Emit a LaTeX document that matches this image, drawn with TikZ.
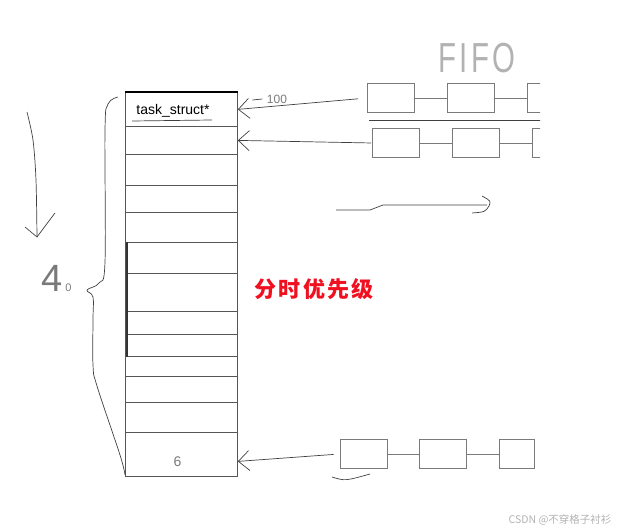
\documentclass[tikz,border=0pt]{standalone}
\usepackage{fontspec}
\setmainfont{Liberation Sans}
\newfontfamily\handfont{Liberation Sans}[FakeStretch=0.7,LetterSpace=8]
\newfontfamily\cjkfont{Noto Sans CJK SC}
\newfontfamily\cjkwide{Noto Sans CJK SC}[LetterSpace=10]
\usepackage{xcolor}
\usetikzlibrary{arrows.meta,positioning}
\definecolor{InkGray}{HTML}{7A7A7A}
\definecolor{SlotLine}{HTML}{555555}
\definecolor{MarkRed}{HTML}{F01020}

\begin{document}
\begin{tikzpicture}[
  x=1pt, y=-1pt,
  node distance=32pt,
  slot/.style={draw=SlotLine,line width=0.8pt,minimum width=112pt,inner sep=0pt,anchor=north west},
  fifo/.style={draw=InkGray,line width=0.8pt,minimum width=47pt,minimum height=29pt,inner sep=0pt},
  link/.style={InkGray,line width=0.8pt},
  ink/.style={black!75,line width=0.7pt},
  arrow/.style={-{Straight Barb[length=11pt,width=20pt]},black!75,line width=0.7pt}
]
  \useasboundingbox (0,0) rectangle (625,532);

  % priority array
  \foreach \t/\b [count=\i from 0] in {92/126,126/154,154/185,185/212,212/242,242/273,273/311,311/334,334/356,356/376,376/402,402/432,432/476}
    \node[slot,minimum height={(\b-\t)*1pt}] (slot\i) at (125,\t) {};
  \draw[line width=2.2pt] (slot0.north west) -- (slot0.north east);
  \draw[line width=1.2pt,black!80] ([xshift=2pt]slot5.north west) -- ([xshift=2pt]slot8.south west);

  \node[font=\fontsize{14}{16}\selectfont,inner sep=0pt,anchor=base] (ts) at (173,115) {task\_struct*};
  \draw[ink] ([xshift=-4pt,yshift=-6pt]ts.base west) -- ([xshift=2pt,yshift=-5pt]ts.base east);
  \node[font=\fontsize{14}{16}\selectfont,text=InkGray] (six) at ([xshift=-4pt,yshift=-7pt]slot12.center) {6};

  % FIFO queues
  \node[font=\handfont\fontsize{42}{46}\selectfont,text=gray!60] (fifolbl) at (477,58) {FIFO};
  \begin{scope}
    \clip (0,0) rectangle (540,532);
    \node[fifo] (q1a) at (391,98) {};
    \node[fifo,right=of q1a] (q1b) {};
    \node[fifo,right=of q1b] (q1c) {};
    \node[fifo] (q2a) at (396,143) {};
    \node[fifo,right=of q2a] (q2b) {};
    \node[fifo,right=of q2b] (q2c) {};
    \draw[link] (q1a) -- (q1b);
    \draw[link] (q1b) -- (q1c);
    \draw[link] (q2a) -- (q2b);
    \draw[link] (q2b) -- (q2c);
    \draw[ink] ([xshift=2pt,yshift=-7.5pt]q1a.south west) -- ++(200,0);
  \end{scope}
  \node[fifo] (q3a) at (363.5,454) {};
  \node[fifo,right=of q3a] (q3b) {};
  \node[fifo,right=of q3b,minimum width=35pt] (q3c) {};
  \draw[link] (q3a) -- (q3b);
  \draw[link] (q3b) -- (q3c);

  \draw[arrow,shorten <=9pt] (q1a.west) -- (slot0.east);
  \draw[arrow,shorten <=1pt] (q2a.west) -- (slot1.east);
  \draw[arrow,shorten <=6pt] (q3a.west) -- ([yshift=-7pt]slot12.east);
  \node[font=\fontsize{12}{14}\selectfont,text=InkGray] (hundred) at (277,99) {100};
  \draw[ink] ([xshift=-1pt]hundred.west) -- ++(-10,1);

  % hand marks
  \draw[ink] plot[smooth,tension=0.6] coordinates {(118,97) (108,104) (105,130) (105,262) (99,283) (87,290) (93,297) (93,320) (93,365) (97,386) (120,455) (125,475)};
  \draw[ink] plot[smooth] coordinates {(27,112) (33,140) (36,180) (37,237)};
  \draw[ink] (25,227) -- (37,237) -- (55,213);
  \node[font=\fontsize{38}{40}\selectfont,text=InkGray,inner sep=0pt,anchor=base west] (forty) at (41,292) {4\hspace{3pt}{\fontsize{11}{12}\selectfont 0}};
  \draw[ink] (336,210) -- (370,210) -- (383,205) -- (487,205);
  \draw[ink] (482,196) .. controls (491,201) .. (489,206) .. controls (485,212) .. (472,213);
  \draw[ink] (332,477) .. controls (345,481) .. (370,474);

  \node[font=\cjkwide\bfseries\fontsize{22}{24}\selectfont,text=MarkRed] (mode) at (314,289) {分时优先级};
  \node[font=\cjkfont\fontsize{10.5}{12}\selectfont,text=gray!60,anchor=east] (mark) at (615,520) {CSDN @不穿格子衬衫};
\end{tikzpicture}
\end{document}
